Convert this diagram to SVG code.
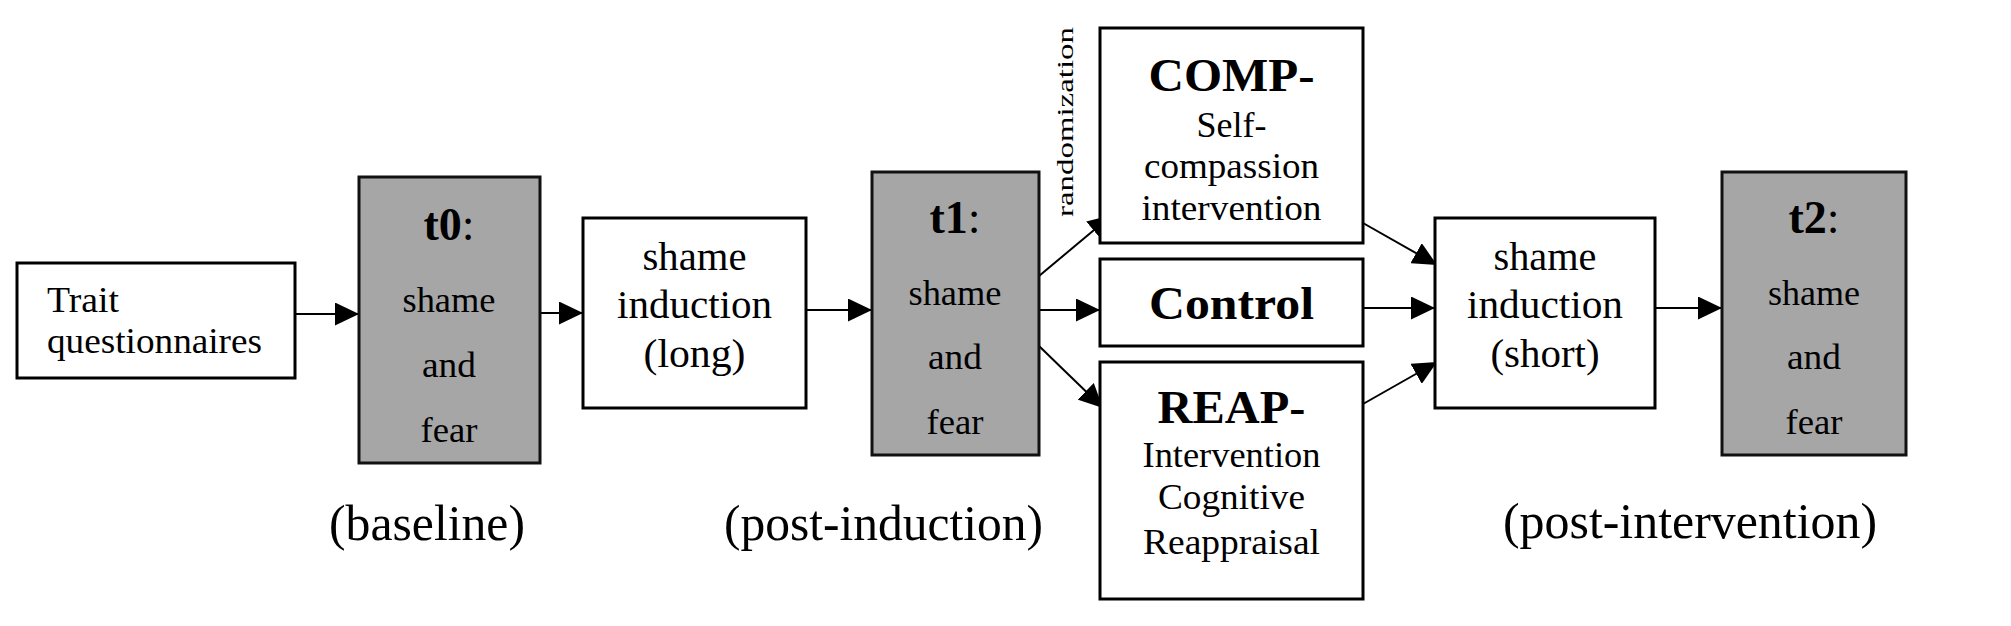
<svg xmlns="http://www.w3.org/2000/svg" width="2011" height="626" viewBox="0 0 2011 626">
<style>
text{font-family:"Liberation Serif","Times New Roman",serif;fill:#000;}
.box{fill:#fff;stroke:#000;stroke-width:3;}
.gbox{fill:#a6a6a6;stroke:#111;stroke-width:3;}
.c{text-anchor:middle;}
.b{font-weight:bold;}
.f35{font-size:35px;}
.f36{font-size:36px;}
.f40{font-size:40px;}
.f46{font-size:46px;}
.f50{font-size:50px;}
.conn line{stroke:#000;stroke-width:2;marker-end:url(#arr);}
</style>
<defs>
<marker id="arr" markerUnits="userSpaceOnUse" markerWidth="24" markerHeight="23" refX="24" refY="11.5" orient="auto">
<path d="M0,0 L24,11.5 L0,23 z" fill="#000"/>
</marker>
</defs>
<rect width="2011" height="626" fill="#fff"/>

<g id="connectors" class="conn">
<line x1="295" y1="314" x2="359" y2="314"/>
<line x1="540" y1="313" x2="583" y2="313"/>
<line x1="806" y1="310" x2="872" y2="310"/>
<line x1="1039" y1="276" x2="1112" y2="215"/>
<line x1="1039" y1="310" x2="1100" y2="310"/>
<line x1="1039" y1="346" x2="1103" y2="408"/>
<line x1="1363" y1="223" x2="1437" y2="265"/>
<line x1="1363" y1="308" x2="1435" y2="308"/>
<line x1="1363" y1="404" x2="1437" y2="362"/>
<line x1="1655" y1="308" x2="1722" y2="308"/>
</g>

<g id="trait">
<rect class="box" x="17" y="263" width="278" height="115"/>
<text class="f36" x="47" y="312" textLength="72" lengthAdjust="spacingAndGlyphs">Trait</text>
<text class="f36" x="47" y="353" textLength="215" lengthAdjust="spacingAndGlyphs">questionnaires</text>
</g>

<g id="t0">
<rect class="gbox" x="359" y="177" width="181" height="286"/>
<text class="f46 c" x="449" y="240"><tspan class="b">t0</tspan>:</text>
<text class="f35 c" x="449" y="312" textLength="93" lengthAdjust="spacingAndGlyphs">shame</text>
<text class="f35 c" x="449" y="377" textLength="54" lengthAdjust="spacingAndGlyphs">and</text>
<text class="f35 c" x="449" y="442" textLength="57" lengthAdjust="spacingAndGlyphs">fear</text>
</g>

<g id="induction-long">
<rect class="box" x="583" y="218" width="223" height="190"/>
<text class="f40 c" x="694.5" y="270" textLength="104" lengthAdjust="spacingAndGlyphs">shame</text>
<text class="f40 c" x="694.5" y="318" textLength="155" lengthAdjust="spacingAndGlyphs">induction</text>
<text class="f40 c" x="694.5" y="367" textLength="102" lengthAdjust="spacingAndGlyphs">(long)</text>
</g>

<g id="t1">
<rect class="gbox" x="872" y="172" width="167" height="283"/>
<text class="f46 c" x="955" y="233"><tspan class="b">t1</tspan>:</text>
<text class="f35 c" x="955" y="305" textLength="93" lengthAdjust="spacingAndGlyphs">shame</text>
<text class="f35 c" x="955" y="369" textLength="54" lengthAdjust="spacingAndGlyphs">and</text>
<text class="f35 c" x="955" y="434" textLength="57" lengthAdjust="spacingAndGlyphs">fear</text>
</g>

<g id="randomization-label">
<text class="c" font-size="23" transform="translate(1073,122) rotate(-90)" textLength="190" lengthAdjust="spacingAndGlyphs">randomization</text>
</g>

<g id="comp">
<rect class="box" x="1100" y="28" width="263" height="215"/>
<text class="f46 c b" x="1231.5" y="91" textLength="166" lengthAdjust="spacingAndGlyphs">COMP-</text>
<text class="f36 c" x="1231.5" y="137" textLength="70" lengthAdjust="spacingAndGlyphs">Self-</text>
<text class="f36 c" x="1231.5" y="178" textLength="175" lengthAdjust="spacingAndGlyphs">compassion</text>
<text class="f36 c" x="1231.5" y="220" textLength="180" lengthAdjust="spacingAndGlyphs">intervention</text>
</g>

<g id="control">
<rect class="box" x="1100" y="259" width="263" height="87"/>
<text class="f46 c b" x="1231.5" y="319" textLength="165" lengthAdjust="spacingAndGlyphs">Control</text>
</g>

<g id="reap">
<rect class="box" x="1100" y="362" width="263" height="237"/>
<text class="f46 c b" x="1231.5" y="423" textLength="148" lengthAdjust="spacingAndGlyphs">REAP-</text>
<text class="f36 c" x="1231.5" y="467" textLength="178" lengthAdjust="spacingAndGlyphs">Intervention</text>
<text class="f36 c" x="1231.5" y="509" textLength="147" lengthAdjust="spacingAndGlyphs">Cognitive</text>
<text class="f36 c" x="1231.5" y="554" textLength="177" lengthAdjust="spacingAndGlyphs">Reappraisal</text>
</g>

<g id="induction-short">
<rect class="box" x="1435" y="218" width="220" height="190"/>
<text class="f40 c" x="1545" y="270" textLength="103" lengthAdjust="spacingAndGlyphs">shame</text>
<text class="f40 c" x="1545" y="318" textLength="156" lengthAdjust="spacingAndGlyphs">induction</text>
<text class="f40 c" x="1545" y="367" textLength="109" lengthAdjust="spacingAndGlyphs">(short)</text>
</g>

<g id="t2">
<rect class="gbox" x="1722" y="172" width="184" height="283"/>
<text class="f46 c" x="1814" y="233"><tspan class="b">t2</tspan>:</text>
<text class="f35 c" x="1814" y="305" textLength="92" lengthAdjust="spacingAndGlyphs">shame</text>
<text class="f35 c" x="1814" y="369" textLength="54" lengthAdjust="spacingAndGlyphs">and</text>
<text class="f35 c" x="1814" y="434" textLength="57" lengthAdjust="spacingAndGlyphs">fear</text>
</g>

<g id="phase-labels">
<text class="f50 c" x="427" y="540" textLength="196" lengthAdjust="spacingAndGlyphs">(baseline)</text>
<text class="f50 c" x="883.5" y="540" textLength="319" lengthAdjust="spacingAndGlyphs">(post-induction)</text>
<text class="f50 c" x="1690" y="538" textLength="374" lengthAdjust="spacingAndGlyphs">(post-intervention)</text>
</g>
</svg>
